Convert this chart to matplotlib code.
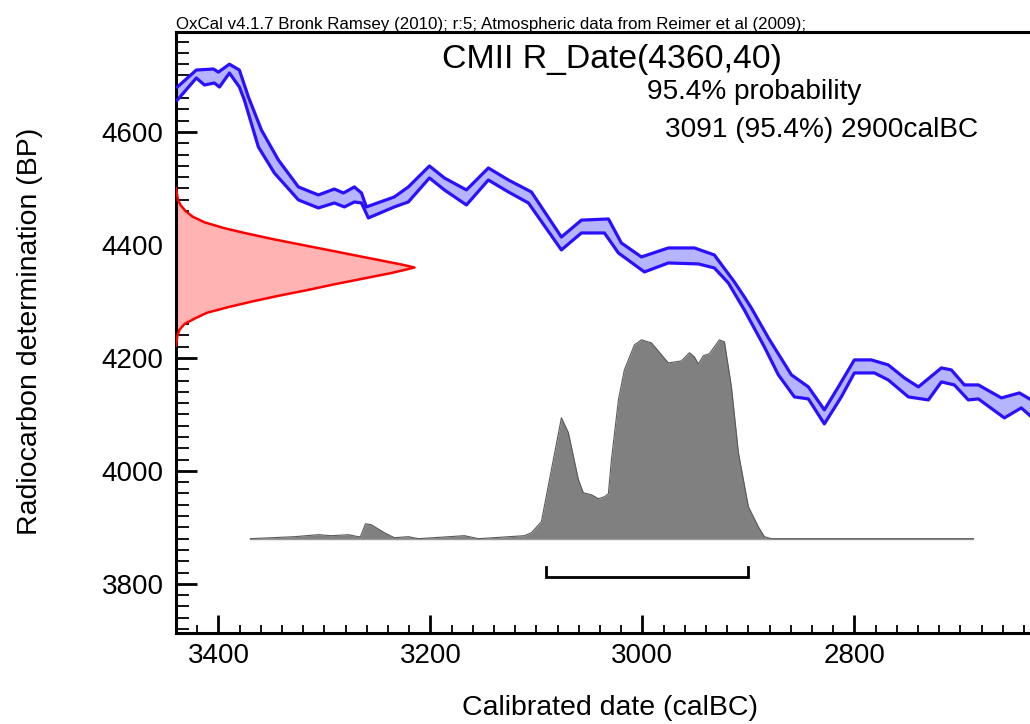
import numpy as np
import matplotlib
matplotlib.use("Agg")
import matplotlib.pyplot as plt
from matplotlib.ticker import MultipleLocator

# ---------------- data ----------------
# calibration curve (upper / lower 1-sigma edges), calBC vs BP
cal_upper_year = [3438.7, 3420.8, 3404.7, 3400.0, 3389.6, 3380.2, 3371.7, 3359.4, 3343.4, 3324.5,
                  3305.7, 3290.6, 3282.0, 3271.7, 3265.0, 3260.4, 3234.0, 3220.8, 3200.9, 3186.8,
                  3166.0, 3145.3, 3126.4, 3104.7, 3076.4, 3057.5, 3032.0, 3019.8, 3000.9, 2975.5,
                  2950.9, 2932.1, 2913.2, 2903.8, 2897.2, 2881.1, 2859.4, 2843.4, 2828.3, 2815.1,
                  2800.0, 2784.0, 2768.0, 2752.8, 2739.6, 2717.9, 2708.5, 2696.2, 2683.0, 2661.3,
                  2644.3, 2633.0]
cal_upper_bp = [4679.6, 4709.7, 4711.5, 4706.0, 4720.0, 4709.7, 4662.0, 4603.5, 4550.4, 4502.7,
                4488.5, 4499.0, 4492.0, 4502.7, 4492.0, 4467.3, 4485.0, 4502.7, 4539.8, 4518.6,
                4497.4, 4536.3, 4515.0, 4493.8, 4414.0, 4444.0, 4446.0, 4403.5, 4378.8, 4394.7,
                4394.7, 4382.3, 4334.5, 4308.0, 4288.5, 4235.4, 4170.0, 4148.7, 4108.0, 4148.7,
                4196.5, 4196.5, 4187.6, 4164.6, 4148.7, 4182.3, 4178.8, 4152.2, 4152.2, 4129.2,
                4138.0, 4125.6]
cal_lower_year = [3438.7, 3420.8, 3413.2, 3403.8, 3399.0, 3389.6, 3380.2, 3375.5, 3362.3, 3347.2,
                  3324.5, 3305.7, 3290.6, 3281.1, 3271.7, 3265.0, 3258.5, 3234.0, 3220.8, 3200.9,
                  3186.8, 3166.0, 3145.3, 3126.4, 3107.5, 3076.4, 3057.5, 3035.8, 3022.6, 2998.1,
                  2975.5, 2947.2, 2932.1, 2918.9, 2903.8, 2884.9, 2871.7, 2856.6, 2843.4, 2828.3,
                  2812.3, 2800.0, 2781.1, 2768.0, 2749.1, 2730.2, 2717.9, 2705.7, 2692.5, 2683.0,
                  2658.5, 2642.5, 2633.0]
cal_lower_bp = [4656.6, 4695.6, 4683.2, 4686.7, 4679.6, 4704.4, 4679.6, 4656.6, 4573.5, 4527.4,
                4479.7, 4465.5, 4474.3, 4467.3, 4476.1, 4474.3, 4447.8, 4467.3, 4476.1, 4518.6,
                4497.4, 4470.8, 4515.0, 4493.8, 4474.3, 4391.2, 4421.2, 4421.2, 4385.8, 4352.2,
                4368.1, 4366.4, 4359.3, 4332.7, 4285.0, 4219.5, 4170.0, 4131.0, 4127.4, 4083.2,
                4131.0, 4173.4, 4173.4, 4161.0, 4131.0, 4125.6, 4157.5, 4152.2, 4125.6, 4127.4,
                4093.8, 4111.5, 4095.6]

# radiocarbon measurement R_Date(4360,40): BP vs relative density
rdate_bp = [4501, 4480, 4470, 4460, 4450, 4440, 4430, 4420, 4410, 4400, 4390, 4380, 4370,
            4365, 4360, 4355, 4350, 4340, 4330, 4320, 4310, 4300, 4290, 4280, 4270, 4260,
            4250, 4240, 4222]
rdate_prob = [0.0, 0.008, 0.02, 0.04, 0.07, 0.12, 0.2, 0.30, 0.41, 0.53, 0.65, 0.77, 0.89,
              0.95, 1.0, 0.95, 0.90, 0.78, 0.66, 0.55, 0.43, 0.32, 0.22, 0.13, 0.08, 0.035,
              0.015, 0.006, 0.0]

# calibrated distribution: calBC vs relative probability
post_year = [3369.8, 3328.3, 3305.7, 3293.4, 3277.4, 3267.9, 3266.0, 3261.3, 3255.7, 3243.4,
             3234.0, 3220.8, 3211.3, 3167.9, 3154.7, 3111.3, 3104.7, 3095.3, 3076.4, 3069.8,
             3060.4, 3055.7, 3048.1, 3041.5, 3035.8, 3032.1, 3029.2, 3022.6, 3017.0, 3007.5,
             3000.9, 2991.5, 2975.5, 2963.2, 2955.7, 2951.0, 2947.2, 2942.5, 2936.8, 2927.4,
             2922.6, 2916.0, 2909.4, 2900.0, 2890.6, 2884.9, 2878.3, 2687.7]
post_prob = [0.0, 0.010, 0.020, 0.015, 0.020, 0.010, 0.010, 0.075, 0.070, 0.030,
             0.005, 0.010, 0.0, 0.015, 0.0, 0.015, 0.030, 0.085, 0.608, 0.533,
             0.297, 0.231, 0.221, 0.201, 0.211, 0.226, 0.397, 0.698, 0.849, 0.975,
             1.0, 0.985, 0.884, 0.894, 0.935, 0.915, 0.879, 0.920, 0.930, 1.0,
             0.990, 0.764, 0.432, 0.161, 0.060, 0.010, 0.0, 0.0]

range_95 = [3091, 2900]

title = "CMII R_Date(4360,40)"
header = "OxCal v4.1.7 Bronk Ramsey (2010); r:5; Atmospheric data from Reimer et al (2009);"
prob_text = ["95.4% probability", "3091 (95.4%) 2900calBC"]
xlabel = "Calibrated date (calBC)"
ylabel = "Radiocarbon determination (BP)"

# ---------------- drawing ----------------
W, H = 1030, 724
REG = ['Liberation Sans', 'DejaVu Sans']
plt.rcParams['font.family'] = REG

fig = plt.figure(figsize=(W / 100, H / 100), dpi=100)
ax = fig.add_axes([176 / W, (H - 633) / H, (W - 176) / W, (633 - 32) / H])
ax.set_xlim(3440, 2634.3)
ax.set_ylim(3713, 4777)

# calibration curve band
poly_x = list(cal_upper_year) + list(cal_lower_year)[::-1]
poly_y = list(cal_upper_bp) + list(cal_lower_bp)[::-1]
ax.fill(poly_x, poly_y, color='#b4b4ff', lw=0, zorder=2)
ax.plot(cal_upper_year, cal_upper_bp, color='#2a10ff', lw=2.3, zorder=3, solid_joinstyle='round')
ax.plot(cal_lower_year, cal_lower_bp, color='#2a10ff', lw=2.3, zorder=3, solid_joinstyle='round')

# measurement distribution along y axis
xl = ax.get_xlim()
span_x = 225.0  # years spanned by peak
rx = [xl[0] - p * span_x for p in rdate_prob]
ax.fill_betweenx(rdate_bp, xl[0], rx, color='#ffb3b3', lw=0, zorder=2)
ax.plot(rx, rdate_bp, color='#ff0000', lw=1.8, zorder=3)

# calibrated posterior
base = 3880.0
height = 352.0
py = [base + p * height for p in post_prob]
ax.fill_between(post_year, base, py, color='#808080', lw=0, zorder=2)
ax.plot(post_year, py, color='#5a5a5a', lw=0.8, zorder=3)
ax.plot([post_year[0], post_year[-1]], [base, base], color='#9a9a9a', lw=1.0, zorder=2)

# range bar
ax.plot([range_95[0], range_95[0], range_95[1], range_95[1]],
        [3829, 3812, 3812, 3829], color='black', lw=2.0, zorder=3,
        solid_joinstyle='miter')

# axes styling
for s in ['left', 'bottom', 'top']:
    ax.spines[s].set_linewidth(2.2)
ax.spines['right'].set_visible(False)
ax.xaxis.set_major_locator(MultipleLocator(200))
ax.xaxis.set_minor_locator(MultipleLocator(20))
ax.yaxis.set_major_locator(MultipleLocator(200))
ax.yaxis.set_minor_locator(MultipleLocator(20))
ax.tick_params(axis='x', which='major', direction='in', length=13, width=2, pad=7, labelsize=20)
ax.tick_params(axis='x', which='minor', direction='in', length=6, width=1.3)
ax.tick_params(axis='y', which='major', direction='in', length=15, width=2, pad=9, labelsize=20)
ax.tick_params(axis='y', which='minor', direction='in', length=9, width=1.3)
ax.tick_params(top=False, right=False, which='both')

# texts
def fx(px):
    return px / W

def fy(py_):
    return 1 - py_ / H

fig.text(fx(176), fy(29), header, fontsize=12.2, family=REG, ha='left', va='baseline')
fig.text(fx(442), fy(68), title, fontsize=24.3, family=REG, ha='left', va='baseline')
fig.text(fx(647), fy(99), prob_text[0], fontsize=20.2, family=REG, ha='left', va='baseline')
fig.text(fx(665), fy(137), prob_text[1], fontsize=20.2, family=REG, ha='left', va='baseline')
fig.text(fx(610), fy(708), xlabel, fontsize=20.5, family=REG, ha='center', va='center')
fig.text(fx(30), fy(331), ylabel, fontsize=20.5, family=REG, ha='center', va='center',
         rotation=90)

fig.savefig('out.png', dpi=100)
